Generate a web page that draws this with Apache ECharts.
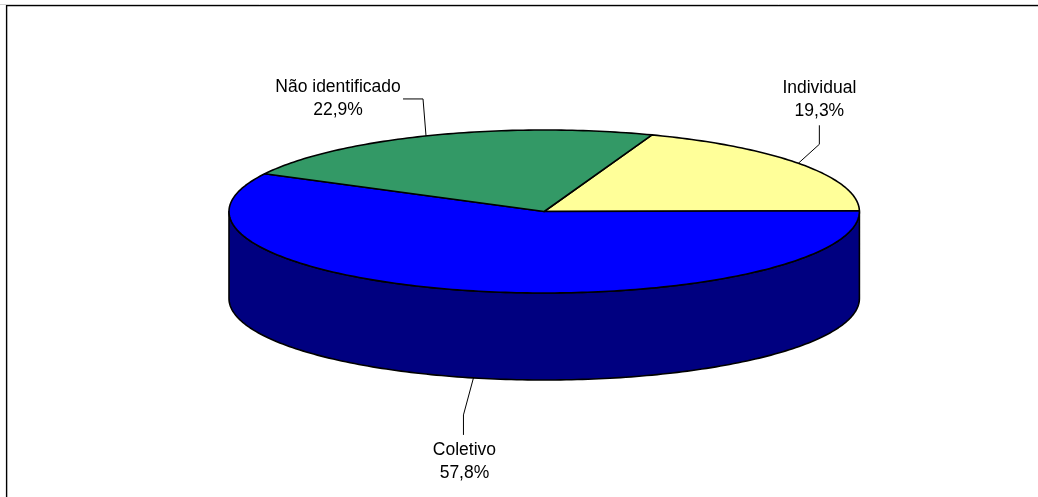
<!DOCTYPE html>
<html>
<head>
<meta charset="utf-8">
<style>html,body{margin:0;padding:0;background:#fff}#c{width:1038px;height:497px}</style>
<script src="https://cdn.jsdelivr.net/npm/echarts@6/dist/echarts.min.js"></script>
</head>
<body>
<div id="c"></div>
<script>
var categories = ['Individual', 'Coletivo', 'Não identificado'];
var values = [19.3, 57.8, 22.9];
var topColors = ['#FFFF99', '#0000FF', '#339966'];
var wallColors = ['#808000', '#000080', '#1A4D33'];
var anchorNudgeDeg = [1, 0.55, 0.8];                     // small shift of the leader's rim anchor
var labelOffsets = [[21, -64], [-9, 84], [-88, -37]];    // label centre relative to the anchor
var elbowOffsets = [[21, -19], [-10, 37], [-3, -37]];    // leader elbow relative to the anchor
var endOffsets = [[21, -38], [-10, 57], [-23, -37]];     // leader end relative to the anchor

var cx = 544.2, cy = 211.5, rx = 315.2, ry = 81.5, depth = 87;
var startDeg = 70;
var total = values.reduce(function (a, b) { return a + b; }, 0);

function pt(deg, dy) {
  var r = deg * Math.PI / 180;
  return [cx + rx * Math.cos(r), cy - ry * Math.sin(r) + (dy || 0)];
}
function range(i) {
  var before = 0;
  for (var k = 0; k < i; k++) before += values[k];
  var a = startDeg - before / total * 360;
  return [a, a - values[i] / total * 360];
}
function arc(a, b, dy) {
  var pts = [], n = Math.max(2, Math.ceil(Math.abs(a - b)));
  for (var k = 0; k <= n; k++) pts.push(pt(a + (b - a) * k / n, dy));
  return pts;
}
var lineStyle = { stroke: '#000', lineWidth: 1.6, lineJoin: 'round' };

function renderWall(params) {
  var i = params.dataIndex, r = range(i);
  var a = Math.min(r[0], 0), b = Math.max(r[1], -180);
  if (a <= b) return { type: 'group', children: [] };
  var pts = arc(a, b, 0).concat(arc(b, a, depth));
  return { type: 'polygon', shape: { points: pts },
           style: Object.assign({ fill: wallColors[i] }, lineStyle) };
}
function renderTop(params) {
  var i = params.dataIndex, r = range(i);
  var pts = [[cx, cy]].concat(arc(r[0], r[1], 0));
  return { type: 'polygon', shape: { points: pts },
           style: Object.assign({ fill: topColors[i] }, lineStyle) };
}
function renderLabel(params) {
  var i = params.dataIndex, r = range(i), mid = (r[0] + r[1]) / 2 + anchorNudgeDeg[i];
  var front = Math.sin(mid * Math.PI / 180) < 0;
  var p = pt(mid, front ? depth : 0);
  var e = elbowOffsets[i], f = endOffsets[i], l = labelOffsets[i];
  return { type: 'group', children: [
    { type: 'polyline',
      shape: { points: [p, [p[0] + e[0], p[1] + e[1]], [p[0] + f[0], p[1] + f[1]]] },
      style: { stroke: '#000', lineWidth: 1, fill: null } },
    { type: 'text', x: p[0] + l[0], y: p[1] + l[1],
      style: { text: categories[i] + '\n' + values[i].toFixed(1).replace('.', ',') + '%',
               fill: '#000', font: '17.5px "Liberation Sans", Arial, sans-serif',
               lineHeight: 23, align: 'center', verticalAlign: 'middle' } }
  ] };
}

var idx = values.map(function (v, i) { return [i, v]; });
var chart = echarts.init(document.getElementById('c'), null, { renderer: 'canvas' });
chart.setOption({
  animation: false,
  backgroundColor: '#fff',
  graphic: [
    { type: 'line', shape: { x1: 0, y1: 4.5, x2: 1038, y2: 4.5 }, style: { stroke: '#d0d0d0', lineWidth: 1 } },
    { type: 'polyline', shape: { points: [[6.6, 497], [6.6, 5.6], [1038, 5.6]] }, style: { stroke: '#000', lineWidth: 1.4, fill: null } }
  ],
  series: [
    { type: 'custom', coordinateSystem: 'none', z: 1, data: idx, renderItem: renderWall, silent: true },
    { type: 'custom', coordinateSystem: 'none', z: 2, data: idx, renderItem: renderTop, silent: true },
    { type: 'custom', coordinateSystem: 'none', z: 3, data: idx, renderItem: renderLabel, silent: true }
  ]
});
</script>
</body>
</html>
